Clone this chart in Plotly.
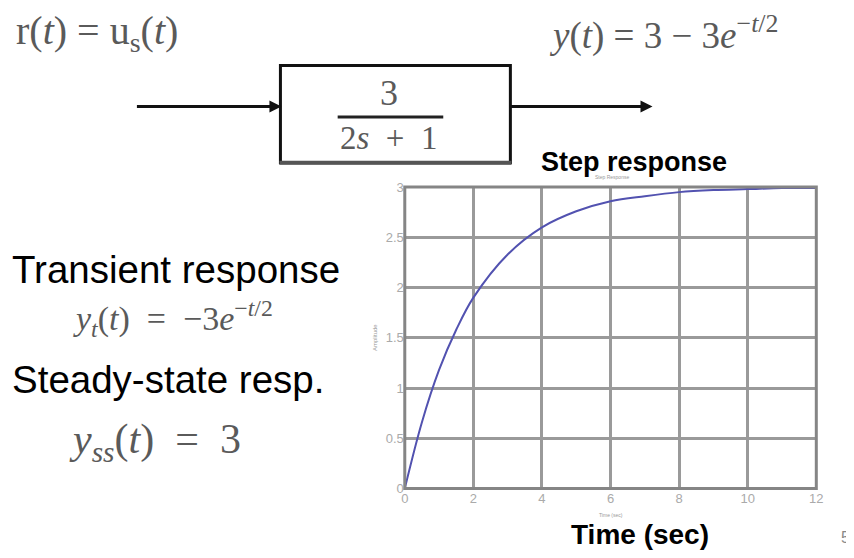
import plotly.graph_objects as go

# ---- data ----
time_s = [0, 0.5, 1, 1.5, 2, 3, 4, 5, 6, 7, 8, 9, 10, 11, 12]
response = [0, 0.66, 1.18, 1.58, 1.9, 2.33, 2.6, 2.76, 2.86, 2.91, 2.95, 2.97, 2.98, 2.99, 2.99]
x_ticks = [0, 2, 4, 6, 8, 10, 12]
y_ticks = [0, 0.5, 1, 1.5, 2, 2.5, 3]
y_tick_labels = ["0", "0.5", "1", "1.5", "2", "2.5", "3"]

# page body has an 8px margin; size the figure so that the page fits the window
OFF = 8
W, H = 854 - 2 * OFF, 558 - 2 * OFF


def px(x):
    return (x - OFF) / W


def py(y):
    return 1 - (y - OFF) / H


fig = go.Figure()
fig.add_trace(go.Scatter(x=time_s, y=response, mode="lines", line_shape="spline",
                         line=dict(color="#5252b0", width=2), showlegend=False))

grid = "#9a9a9a"
tickfont = dict(family="Liberation Sans", size=13, color="#aaaaaa")
fig.update_layout(
    width=W, height=H, autosize=False,
    margin=dict(l=0, r=0, t=0, b=0),
    paper_bgcolor="white", plot_bgcolor="white",
    xaxis=dict(domain=[px(406), px(823)], range=[0, 12], tickvals=x_ticks,
               showgrid=True, gridcolor=grid, gridwidth=2.5, zeroline=False,
               showline=False, ticks="", tickfont=tickfont, fixedrange=True),
    yaxis=dict(domain=[py(495), py(185)], range=[0, 3], tickvals=y_ticks, ticktext=y_tick_labels,
               showgrid=True, gridcolor=grid, gridwidth=2.5, zeroline=False,
               showline=False, ticks="", tickfont=tickfont, fixedrange=True),
)

# plot border
fig.add_shape(type="rect", xref="x domain", yref="y domain", x0=0, x1=1, y0=0, y1=1,
              line=dict(color="#858585", width=3), layer="above")

# block diagram box
fig.add_shape(type="rect", xref="paper", yref="paper", x0=px(280), x1=px(513), y0=py(160), y1=py(60),
              line=dict(color="#111111", width=3))
fig.add_shape(type="line", xref="paper", yref="paper", x0=px(279), x1=px(514), y0=py(160), y1=py(160),
              line=dict(color="#555555", width=4))
# fraction bar
fig.add_shape(type="line", xref="paper", yref="paper", x0=px(338), x1=px(445), y0=py(113), y1=py(113),
              line=dict(color="#222222", width=3))

# arrows
for x0, x1 in [(135, 281), (513, 657)]:
    fig.add_annotation(xref="paper", yref="paper", axref="pixel", ayref="pixel",
                       x=px(x1), y=py(102), ax=x0 - x1, ay=0, text="",
                       showarrow=True, arrowhead=2, arrowsize=0.8, arrowwidth=3, arrowcolor="#111111")

serif = "Liberation Serif"
mathcol = "#5a5a5a"
NB = "&nbsp;"


def txt(x, y, text, size, color="#000000", family="Liberation Sans", xanchor="center", bold=False):
    if bold:
        text = "<b>" + text + "</b>"
    fig.add_annotation(xref="paper", yref="paper", x=px(x), y=py(y), text=text, showarrow=False,
                       xanchor=xanchor, yanchor="middle", font=dict(family=family, size=size, color=color))


txt(10, 26, "r(<i>t</i>) = u<sub>s</sub>(<i>t</i>)", 40, mathcol, serif, "left")
txt(550, 26, "<i>y</i>(<i>t</i>) = 3 − 3<i>e</i><sup>−<i>t</i>/2</sup>", 37, mathcol, serif, "left")
txt(390, 88, "3", 36, mathcol, serif)
txt(390, 135, "2<i>s</i>" + NB + " +" + NB + " 1", 33, mathcol, serif)

txt(6, 270, "Transient response", 38.5, "#000000", "Liberation Sans", "left")
txt(68, 320, "<i>y<sub>t</sub></i>(<i>t</i>)" + NB + " =" + NB + " −3<i>e</i><sup>−<i>t</i>/2</sup>",
    34, mathcol, serif, "left")
txt(6, 383, "Steady-state resp.", 38.5, "#000000", "Liberation Sans", "left")
txt(64, 447, "<i>y<sub>ss</sub></i>(<i>t</i>)" + NB + " =" + NB + " 3", 42, mathcol, serif, "left")

txt(638, 159, "Step response", 27, "#000000", "Liberation Sans", bold=True)
txt(616, 175, "Step Response", 5, "#999999")
txt(644, 542, "Time (sec)", 28, "#000000", "Liberation Sans", bold=True)
txt(615, 522, "Time (sec)", 5, "#999999")
fig.add_annotation(xref="paper", yref="paper", x=px(376), y=py(340), text="Amplitude", showarrow=False,
                   textangle=-90, font=dict(family="Liberation Sans", size=6, color="#999999"))
txt(846, 545, "5", 16, "#888888", "Liberation Sans", "left")

fig.write_html("out.html")
